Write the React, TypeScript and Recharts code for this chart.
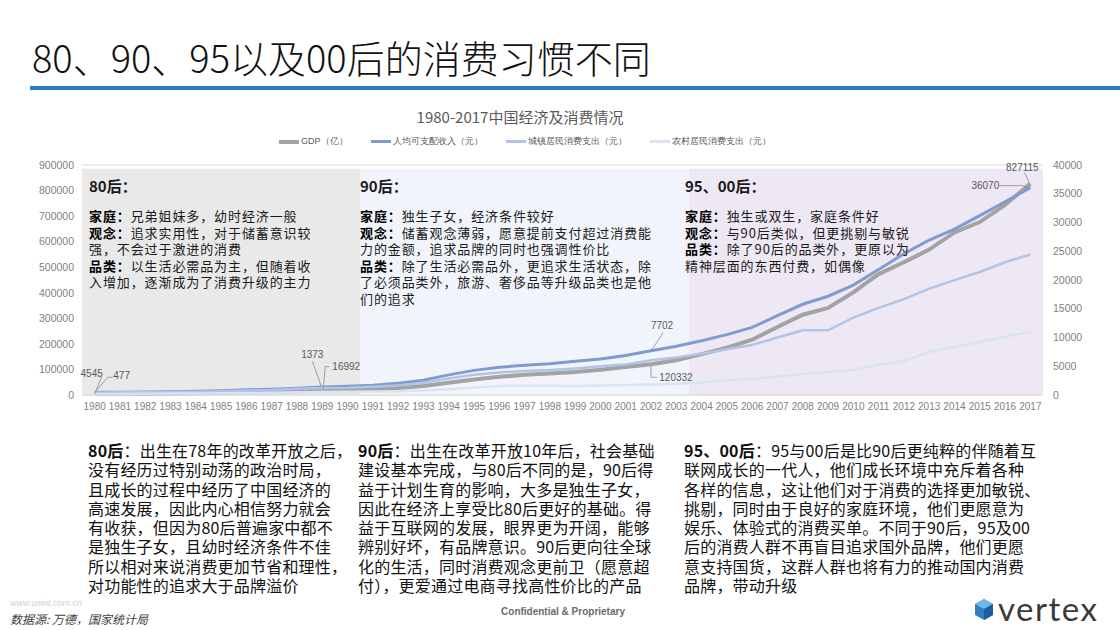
import React from 'react';
import { LineChart, Line, XAxis, YAxis, CartesianGrid, ReferenceArea, Legend } from 'recharts';

const years = [
  '1980', '1981', '1982', '1983', '1984', '1985', '1986', '1987', '1988', '1989',
  '1990', '1991', '1992', '1993', '1994', '1995', '1996', '1997', '1998', '1999',
  '2000', '2001', '2002', '2003', '2004', '2005', '2006', '2007', '2008', '2009',
  '2010', '2011', '2012', '2013', '2014', '2015', '2016', '2017',
];

// GDP (亿), left axis
const gdp = [
  4545, 4892, 5323, 5963, 7208, 9016, 10275, 12059, 15043, 16992,
  18668, 21782, 26924, 35334, 48198, 60794, 71177, 78973, 84402, 89677,
  99215, 109655, 120332, 135823, 159878, 184937, 216314, 265810, 314045, 340903,
  401513, 473104, 519470, 568845, 636139, 676708, 744127, 827115,
];

// per-capita figures (元), right axis
const income = [
  477, 500, 535, 565, 652, 739, 901, 1002, 1180, 1373,
  1510, 1701, 2027, 2577, 3496, 4283, 4839, 5160, 5425, 5854,
  6280, 6860, 7702, 8472, 9422, 10493, 11760, 13786, 15781, 17175,
  19109, 21810, 24565, 26955, 28844, 31195, 33616, 36070,
];

const urbanSpend = [
  412, 457, 471, 506, 559, 673, 799, 884, 1104, 1211,
  1279, 1454, 1672, 2111, 2851, 3538, 3920, 4186, 4332, 4616,
  4998, 5309, 6030, 6511, 7182, 7943, 8697, 9998, 11243, 11250,
  13471, 15161, 16674, 18488, 19968, 21392, 23079, 24445,
];

const ruralSpend = [
  162, 191, 220, 248, 274, 317, 357, 398, 477, 535,
  585, 620, 659, 770, 1017, 1310, 1572, 1617, 1590, 1577,
  1670, 1741, 1834, 1943, 2185, 2555, 2829, 3224, 3661, 3994,
  4382, 5221, 5908, 7485, 8383, 9223, 10130, 10955,
];

const seriesNames = ['GDP（亿）', '人均可支配收入（元）', '城镇居民消费支出（元）', '农村居民消费支出（元）'];

const leftTicks = [0, 100000, 200000, 300000, 400000, 500000, 600000, 700000, 800000, 900000];
const rightTicks = [0, 5000, 10000, 15000, 20000, 25000, 30000, 35000, 40000];

// generation bands on the x axis
const eras = [
  { from: '1980', to: '1990', fill: '#e9e9e9' },
  { from: '1991', to: '2003', fill: '#f1f5fb' },
  { from: '2004', to: '2017', fill: '#eee8f4' },
];

const chartData = years.map((year, i) => ({
  year,
  gdp: gdp[i],
  income: income[i],
  urban: urbanSpend[i],
  rural: ruralSpend[i],
}));

type Callout = { index: number; dx: number; dy: number; path: [number, number][] };

const gdpCallouts: Callout[] = [
  { index: 0, dx: -3, dy: -20, path: [[7, -17], [0, 0]] },
  { index: 9, dx: 24, dy: -24, path: [[7, -24], [3, -24], [1, -2]] },
  { index: 22, dx: 25, dy: 13, path: [[0, 2], [0, 13], [6, 13]] },
  { index: 37, dx: -8, dy: -16, path: [[-6, -11], [-1, -1]] },
];

const incomeCallouts: Callout[] = [
  { index: 0, dx: 27, dy: -17, path: [[18, -15], [13, -15], [2, -2]] },
  { index: 9, dx: -10, dy: -33, path: [[-10, -26], [-1, -1]] },
  { index: 22, dx: 11, dy: -25, path: [[12, -18], [1, -1]] },
  { index: 37, dx: -45, dy: -2, path: [[-31, -2], [-8, -2], [-1, 0]] },
];

const makeLabel = (callouts: Callout[]) => (props: any) => {
  const { x, y, index, value } = props;
  const c = callouts.find((k) => k.index === index);
  if (!c) return null;
  const pts = c.path.map(([a, b]) => `${x + a},${y + b}`).join(' ');
  return (
    <g key={`lbl-${index}`}>
      <polyline points={pts} fill="none" stroke="#8c8c8c" strokeWidth={0.8} />
      <text
        x={x + c.dx}
        y={y + c.dy}
        textAnchor="middle"
        dominantBaseline="central"
        fontSize={10}
        fill="#595959"
        fontFamily="'Liberation Sans', sans-serif"
      >
        {value}
      </text>
    </g>
  );
};

const renderLegend = (props: any) => {
  const payload = [...(props.payload || [])].sort(
    (a: any, b: any) => seriesNames.indexOf(a.value) - seriesNames.indexOf(b.value)
  );
  return (
    <div style={{ display: 'flex', alignItems: 'center', fontSize: 9, color: '#595959' }}>
      {payload.map((entry: any, i: number) => (
        <div key={`leg-${i}`} style={{ display: 'flex', alignItems: 'center', marginRight: 23 }}>
          <span
            style={{
              display: 'inline-block',
              width: 20,
              height: i === 0 ? 4 : 3,
              background: entry.color,
              marginRight: 2,
            }}
          />
          <span>{entry.value}</span>
        </div>
      ))}
    </div>
  );
};

const panels = [
  {
    left: 89,
    heading: '80后：',
    lines: [
      { label: '家庭', text: '兄弟姐妹多，幼时经济一般' },
      { label: '观念', text: '追求实用性，对于储蓄意识较' },
      { text: '强，不会过于激进的消费' },
      { label: '品类', text: '以生活必需品为主，但随着收' },
      { text: '入增加，逐渐成为了消费升级的主力' },
    ],
  },
  {
    left: 360,
    heading: '90后：',
    lines: [
      { label: '家庭', text: '独生子女，经济条件较好' },
      { label: '观念', text: '储蓄观念薄弱，愿意提前支付超过消费能' },
      { text: '力的金额，追求品牌的同时也强调性价比' },
      { label: '品类', text: '除了生活必需品外，更追求生活状态，除' },
      { text: '了必须品类外，旅游、奢侈品等升级品类也是他' },
      { text: '们的追求' },
    ],
  },
  {
    left: 685,
    heading: '95、00后：',
    lines: [
      { label: '家庭', text: '独生或双生，家庭条件好' },
      { label: '观念', text: '与90后类似，但更挑剔与敏锐' },
      { label: '品类', text: '除了90后的品类外，更原以为' },
      { text: '精神层面的东西付费，如偶像' },
    ],
  },
];

const notes = [
  {
    left: 88,
    head: '80后',
    lines: [
      '：出生在78年的改革开放之后，',
      '没有经历过特别动荡的政治时局，',
      '且成长的过程中经历了中国经济的',
      '高速发展，因此内心相信努力就会',
      '有收获，但因为80后普遍家中都不',
      '是独生子女，且幼时经济条件不佳',
      '所以相对来说消费更加节省和理性，',
      '对功能性的追求大于品牌溢价',
    ],
  },
  {
    left: 358,
    head: '90后',
    lines: [
      '：出生在改革开放10年后，社会基础',
      '建设基本完成，与80后不同的是，90后得',
      '益于计划生育的影响，大多是独生子女，',
      '因此在经济上享受比80后更好的基础。得',
      '益于互联网的发展，眼界更为开阔，能够',
      '辨别好坏，有品牌意识。90后更向往全球',
      '化的生活，同时消费观念更前卫（愿意超',
      '付），更爱通过电商寻找高性价比的产品',
    ],
  },
  {
    left: 684,
    head: '95、00后',
    lines: [
      '：95与00后是比90后更纯粹的伴随着互',
      '联网成长的一代人，他们成长环境中充斥着各种',
      '各样的信息，这让他们对于消费的选择更加敏锐、',
      '挑剔，同时由于良好的家庭环境，他们更愿意为',
      '娱乐、体验式的消费买单。不同于90后，95及00',
      '后的消费人群不再盲目追求国外品牌，他们更愿',
      '意支持国货，这群人群也将有力的推动国内消费',
      '品牌，带动升级',
    ],
  },
];

const cjk = "'Noto Sans CJK SC', 'Noto Sans', sans-serif";

export default function App() {
  return (
    <div
      style={{
        position: 'absolute',
        left: 0,
        top: 0,
        width: 1120,
        height: 630,
        background: '#ffffff',
        overflow: 'hidden',
        fontFamily: cjk,
      }}
    >
      <div
        style={{
          position: 'absolute',
          left: 32,
          top: 36,
          fontSize: 38,
          lineHeight: '42px',
          fontWeight: 300,
          color: '#111',
          whiteSpace: 'nowrap',
        }}
      >
        80、90、95以及00后的消费习惯不同
      </div>
      <div style={{ position: 'absolute', left: 30, top: 86, width: 1090, height: 4, background: '#2f7ec1' }} />

      <div
        style={{
          position: 'absolute',
          left: 320,
          width: 400,
          top: 106,
          textAlign: 'center',
          fontSize: 15,
          color: '#595959',
          whiteSpace: 'nowrap',
        }}
      >
        1980-2017中国经济及消费情况
      </div>

      <div style={{ position: 'absolute', left: 0, top: 0, fontFamily: "'Liberation Sans', sans-serif" }}>
        <LineChart width={1120} height={420} data={chartData} margin={{ top: 165, right: 0, bottom: 0, left: 0 }}>
          {eras.map((e) => (
            <ReferenceArea
              key={e.from}
              yAxisId="left"
              x1={e.from}
              x2={e.to}
              y1={0}
              y2={885000}
              fill={e.fill}
              fillOpacity={1}
              stroke="none"
            />
          ))}
          <CartesianGrid yAxisId="left" vertical={false} stroke="#d9d9d9" />
          <XAxis
            dataKey="year"
            scale="band"
            interval={0}
            height={25}
            tickLine={false}
            axisLine={{ stroke: '#d9d9d9' }}
            tick={{ fontSize: 10, fill: '#7f7f7f' }}
          />
          <YAxis
            yAxisId="left"
            width={82}
            domain={[0, 900000]}
            ticks={leftTicks}
            interval={0}
            tickLine={false}
            axisLine={false}
            tick={{ fontSize: 10.5, fill: '#7f7f7f' }}
          />
          <YAxis
            yAxisId="right"
            orientation="right"
            width={77}
            domain={[0, 40000]}
            ticks={rightTicks}
            interval={0}
            tickLine={false}
            axisLine={false}
            tickMargin={4}
            tick={{ fontSize: 10.5, fill: '#7f7f7f' }}
          />
          <Legend
            verticalAlign="middle"
            layout="horizontal"
            content={renderLegend}
            wrapperStyle={{ top: 135, left: 279, width: 560, height: 14 }}
          />
          <Line
            yAxisId="left"
            dataKey="gdp"
            name={seriesNames[0]}
            stroke="#a3a3a3"
            strokeWidth={4}
            dot={false}
            activeDot={false}
            isAnimationActive={false}
            label={makeLabel(gdpCallouts)}
          />
          <Line
            yAxisId="right"
            dataKey="income"
            name={seriesNames[1]}
            stroke="#7f9bd2"
            strokeWidth={3}
            dot={false}
            activeDot={false}
            isAnimationActive={false}
            label={makeLabel(incomeCallouts)}
          />
          <Line
            yAxisId="right"
            dataKey="urban"
            name={seriesNames[2]}
            stroke="#b1c4e6"
            strokeWidth={2.5}
            dot={false}
            activeDot={false}
            isAnimationActive={false}
          />
          <Line
            yAxisId="right"
            dataKey="rural"
            name={seriesNames[3]}
            stroke="#dbe3f3"
            strokeWidth={2.5}
            dot={false}
            activeDot={false}
            isAnimationActive={false}
          />
        </LineChart>
      </div>

      {panels.map((p) => (
        <div key={p.heading} style={{ position: 'absolute', left: p.left, top: 176, color: '#1a1a1a' }}>
          <div style={{ fontSize: 15, fontWeight: 700, lineHeight: '20px', height: 32 }}>{p.heading}</div>
          {p.lines.map((ln, i) => (
            <div
              key={`${p.heading}-${i}`}
              style={{ fontSize: 13, lineHeight: '16.6px', letterSpacing: 0.9, whiteSpace: 'nowrap' }}
            >
              {ln.label ? <b style={{ color: '#000' }}>{ln.label}：</b> : null}
              {ln.text}
            </div>
          ))}
        </div>
      ))}

      {notes.map((n) => (
        <div key={n.head} style={{ position: 'absolute', left: n.left, top: 441, color: '#111' }}>
          {n.lines.map((ln, i) => (
            <div
              key={`${n.head}-${i}`}
              style={{ fontSize: 16, lineHeight: '19.3px', letterSpacing: 0.2, whiteSpace: 'nowrap' }}
            >
              {i === 0 ? <b>{n.head}</b> : null}
              {ln}
            </div>
          ))}
        </div>
      ))}

      <div
        style={{
          position: 'absolute',
          left: 10,
          top: 598,
          fontSize: 9,
          fontStyle: 'italic',
          color: '#d0d0d0',
          fontFamily: "'Liberation Sans', sans-serif",
        }}
      >
        www.useit.com.cn
      </div>
      <div
        style={{
          position: 'absolute',
          left: 10,
          top: 610,
          fontSize: 12,
          fontStyle: 'italic',
          color: '#404040',
          whiteSpace: 'nowrap',
        }}
      >
        数据源: 万德，国家统计局
      </div>
      <div
        style={{
          position: 'absolute',
          left: 463,
          width: 200,
          top: 606,
          textAlign: 'center',
          fontSize: 10,
          fontWeight: 700,
          color: '#6b6b6b',
          fontFamily: "'Liberation Sans Narrow', 'Liberation Sans', sans-serif",
        }}
      >
        Confidential &amp; Proprietary
      </div>
      <svg style={{ position: 'absolute', left: 972, top: 598 }} width={24} height={24}>
        <polygon points="3,6 12,1 21,6 21,17 12,22 3,17" fill="#2f7ec1" />
        <polygon points="3,6 12,1 21,6 12,11" fill="#6fb7e8" />
        <polygon points="12,11 21,6 21,17 12,22" fill="#1b5f9e" />
      </svg>
      <div
        style={{
          position: 'absolute',
          left: 998,
          top: 588,
          fontSize: 33,
          letterSpacing: 1.5,
          color: '#3a3a3a',
          fontFamily: "Lato, 'Liberation Sans', sans-serif",
        }}
      >
        vertex
      </div>
    </div>
  );
}
